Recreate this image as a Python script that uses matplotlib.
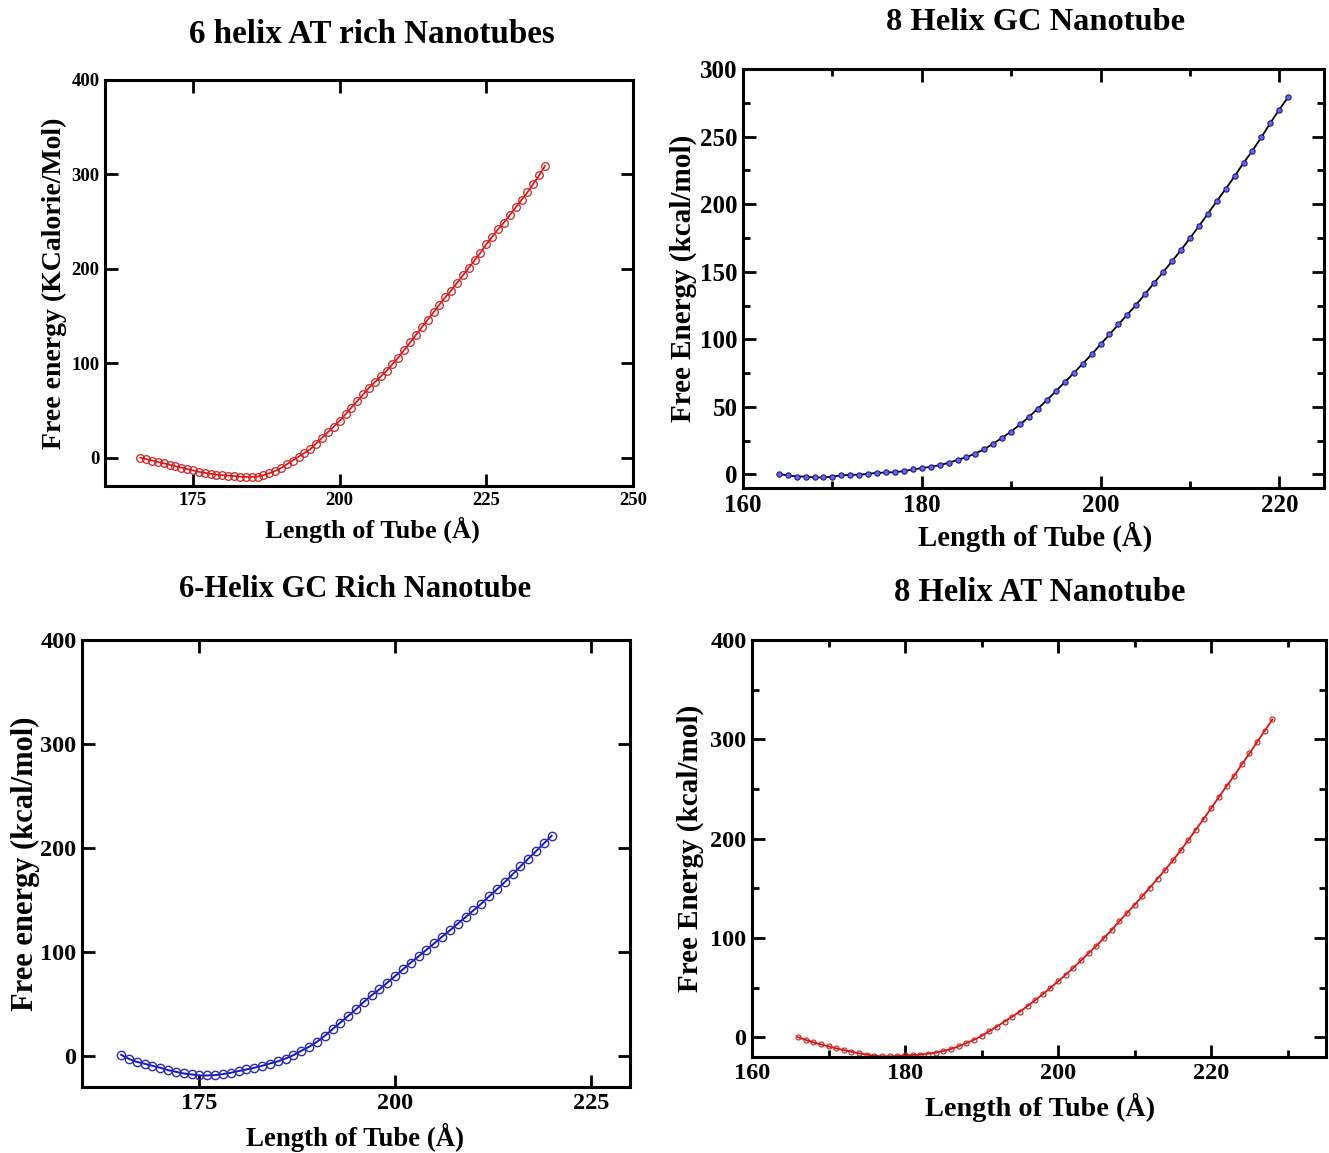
import matplotlib
matplotlib.use("Agg")
import matplotlib.pyplot as plt
from matplotlib.ticker import MultipleLocator

plt.rcParams['font.family'] = ['Liberation Serif', 'DejaVu Serif']
plt.rcParams['font.weight'] = 'bold'

# ---------------- data ----------------
# 6 helix AT rich
at6_x = list(range(166, 236))
at6_y = [0, -1.5, -3, -4.5, -6, -7.5, -9, -10.5, -12, -13.5,
         -15, -16, -17, -18, -18.5, -19, -19.5, -20, -20.3, -20.5,
         -20, -18.5, -16.5, -14, -11, -7, -3, 1, 5, 9,
         15, 21, 27, 33, 39, 46, 53, 60, 67, 74,
         80, 86, 92, 99, 106, 114, 122, 130, 138, 146,
         154, 162, 170, 177, 185, 193, 201, 209, 217, 226,
         234, 242, 249, 257, 265, 273, 281, 290, 299, 309]

# 8 helix GC
gc8_x = list(range(164, 222))
gc8_y = [0.5, -0.7, -1.5, -1.5, -2.2, -2.2, -1.5, -0.7, -0.2, -0.2,
         0.5, 1.2, 1.5, 1.7, 2.5, 3.7, 4.7, 5.7, 6.9, 8.6,
         10.8, 12.8, 15.5, 18.7, 22.9, 27.1, 31.8, 37, 42.7, 48.8,
         55, 61.6, 68.3, 75, 81.9, 88.8, 96.2, 103.6, 111, 118.3,
         125.7, 133.6, 141.8, 149.7, 157.8, 166, 174.8, 183.7, 192.8, 202.2,
         211.3, 220.7, 230.5, 239.6, 249.5, 260.1, 270, 279.3]

# 6 helix GC rich
gc6_x = list(range(165, 221))
gc6_y = [1, -3, -5.8, -7.7, -9.6, -11.5, -13.8, -15.4, -17, -17.9,
         -18.9, -18.9, -18.6, -17.6, -16.3, -14.7, -13.1, -11.5, -9.6, -7.4,
         -5.4, -2.6, 0.6, 4.8, 8.6, 13.4, 19.2, 25.6, 32, 38.4,
         44.8, 51.9, 58.3, 64, 70.4, 76.8, 83.2, 89.7, 95.7, 102,
         108.2, 114.6, 120.7, 127.1, 133.5, 139.9, 146.3, 153.4, 160.1, 167.1,
         174.5, 182.2, 189.6, 196.9, 204.3, 211.7]

# 8 helix AT
at8_x = list(range(166, 229))
at8_y = [0, -2.7, -5.3, -7.3, -9.3, -11.3, -13, -14.7, -16.3, -17.7,
         -18.7, -19.3, -19.3, -19, -18.3, -18, -17.7, -16.7, -15.7, -14,
         -12, -9.3, -6, -2.7, 1.3, 6, 10.7, 15.7, 20.7, 25.7,
         31.3, 37.3, 43.3, 49.7, 56.3, 63, 70, 77.3, 84.7, 92,
         100, 108, 116.7, 125, 133.3, 142, 150.7, 159.7, 168.7, 178,
         188, 198.3, 209, 219.7, 230.7, 241.7, 252.7, 263.3, 274.7, 285.7,
         297.3, 308.7, 320]

titles = ["6 helix AT rich Nanotubes", "8 Helix GC Nanotube",
          "6-Helix GC Rich Nanotube", "8 Helix AT Nanotube"]
ylabels = ["Free energy (KCalorie/Mol)", "Free Energy (kcal/mol)",
           "Free energy (kcal/mol)", "Free Energy (kcal/mol)"]
xlabel = "Length of Tube (Å)"

W, H = 1329, 1153
fig = plt.figure(figsize=(W / 100, H / 100), dpi=100)


def make_axes(L, R, T, B):
    return fig.add_axes([L / W, 1 - B / H, (R - L) / W, (B - T) / H])


def style(ax, xlim, ylim, xmaj, ymaj, xmin=None, ymin=None, tfs=17):
    ax.set_xlim(*xlim)
    ax.set_ylim(*ylim)
    ax.xaxis.set_major_locator(MultipleLocator(xmaj))
    ax.yaxis.set_major_locator(MultipleLocator(ymaj))
    if xmin:
        ax.xaxis.set_minor_locator(MultipleLocator(xmin))
    if ymin:
        ax.yaxis.set_minor_locator(MultipleLocator(ymin))
    ax.tick_params(which='both', direction='in', top=True, right=True,
                   labelsize=tfs, width=2)
    ax.tick_params(which='major', length=9, pad=4)
    ax.tick_params(which='minor', length=5)
    for s in ax.spines.values():
        s.set_linewidth(2.2)
    for lab in ax.get_xticklabels() + ax.get_yticklabels():
        lab.set_fontweight('bold')


def labels(ax, i, tpos, xpos, ypos, tsize, xsize, ysize):
    ax.set_title(titles[i], fontsize=tsize, fontweight='bold', x=tpos[0], y=tpos[1],
                 va='center', pad=0)
    ax.set_xlabel(xlabel, fontsize=xsize, fontweight='bold', va='center')
    ax.xaxis.set_label_coords(*xpos)
    ax.set_ylabel(ylabels[i], fontsize=ysize, fontweight='bold', va='center')
    ax.yaxis.set_label_coords(*ypos)


# Panel 1
ax1 = make_axes(105, 633, 80, 486)
ax1.plot(at6_x, at6_y, color='#e01010', lw=1.2, marker='o', ms=5.5,
         mfc='none', mec='#d02020', mew=0.9)
style(ax1, (160, 250), (-30, 400), 25, 100, tfs=13.5)
ax1.set_xticks([175, 200, 225, 250])
labels(ax1, 0, (0.506, 1.111), (0.506, -0.108), (-0.095, 0.5), 23.8, 19, 20)

# Panel 2
ax2 = make_axes(743, 1324, 69, 488)
ax2.plot(gc8_x, gc8_y, color='black', lw=1.3, zorder=2)
ax2.plot(gc8_x, gc8_y, ls='none', marker='o', ms=3.8, mfc='#6a6ad8',
         mec='#1a1aa0', mew=0.8, zorder=3)
style(ax2, (160, 225), (-10, 300), 20, 50, 10, 25, tfs=18)
labels(ax2, 1, (0.503, 1.112), (0.503, -0.117), (-0.103, 0.5), 23.4, 20.7, 21)

# Panel 3
ax3 = make_axes(82, 630, 640, 1087)
ax3.plot(gc6_x, gc6_y, color='#1515c8', lw=1.4, marker='o', ms=6,
         mfc='none', mec='#2a2ab8', mew=1.0)
style(ax3, (160, 230), (-30, 400), 25, 100, tfs=17.5)
ax3.set_xticks([175, 200, 225])
labels(ax3, 2, (0.498, 1.112), (0.498, -0.114), (-0.104, 0.5), 22, 19.3, 22)

# Panel 4
ax4 = make_axes(752, 1326, 640, 1057)
ax4.plot(at8_x, at8_y, color='#dd1010', lw=1.3, marker='o', ms=3.6,
         mfc='none', mec='#cc2020', mew=0.8)
style(ax4, (160, 235), (-20, 400), 20, 100, 10, 50, tfs=17.5)
labels(ax4, 3, (0.502, 1.113), (0.502, -0.12), (-0.108, 0.5), 23.5, 20.3, 21)

fig.savefig("out.png", dpi=100, facecolor='white')
